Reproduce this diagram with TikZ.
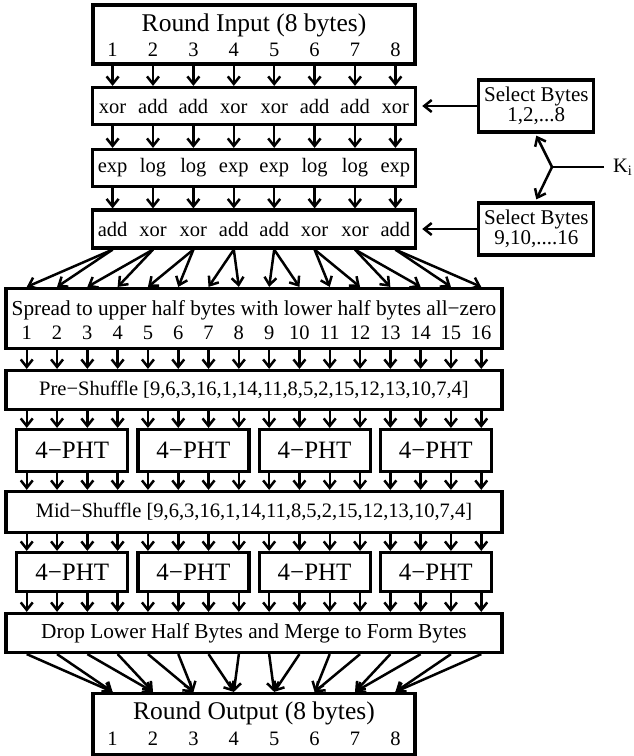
\documentclass[tikz,border=0pt]{standalone}
\usepackage{fontspec}
\setmainfont{Liberation Serif}
\usetikzlibrary{arrows.meta,positioning}

% one fixed-width cell per byte lane
\newcommand{\lanes}[2]{\foreach \w in {#2}{\makebox[#1][c]{\w}}}

\begin{document}
\begin{tikzpicture}[
  x=1pt,y=-1pt,
  >={Straight Barb[length=7.5pt,width=12pt]},
  box/.style={draw,line width=3.2pt,inner sep=0pt,align=center},
  fl/.style={->,line width=2.5pt},
  ttl/.style={inner sep=0pt,font=\fontsize{25.5}{25}\selectfont},
  num/.style={inner sep=0pt,font=\fontsize{20.5}{20}\selectfont},
  txt/.style={font=\fontsize{20.5}{20}\selectfont},
  big/.style={font=\fontsize{21.3}{21}\selectfont},
  sel/.style={box,font=\fontsize{21}{20.5}\selectfont,minimum width=115pt,minimum height=52pt},
  wide/.style={box,minimum width=496pt},
  narrow/.style={box,minimum width=322pt},
  pht/.style={box,font=\fontsize{25}{25}\selectfont,minimum width=111pt}
]
\useasboundingbox (0,0) rectangle (633,756);

% byte lanes
\foreach \i in {1,...,8} \coordinate (c\i) at ({254+40.4*(\i-4.5)},0);
\foreach \k in {1,...,16} \coordinate (s\k) at ({254+30.3*(\k-8.5)},0);

% 8-byte part
\node[narrow,minimum height=59pt] (rin) at (254,34.5) {};
\node[ttl,anchor=base] (rinT) at ([yshift=-28pt]rin.north) {Round Input (8 bytes)};
\node[num,anchor=base] (rinN) at ([yshift=-53pt]rin.north) {\lanes{40.4pt}{1,...,8}};
\node[narrow,txt,minimum height=37pt] (xor) at (254,106) {\lanes{40.4pt}{xor,add,add,xor,xor,add,add,xor}};
\node[narrow,txt,minimum height=37pt] (exp) at (254,168) {\lanes{40.4pt}{exp,log,log,exp,exp,log,log,exp}};
\node[narrow,txt,minimum height=38pt] (add) at (254,229) {\lanes{40.4pt}{add,xor,xor,add,add,xor,xor,add}};

% key bytes
\node[sel,right=60pt of xor] (sel1) {Select Bytes\\1,2,...8};
\node[sel,right=60pt of add] (sel2) {Select Bytes\\9,10,....16};
\coordinate (kj) at (552,167);
\node[txt,anchor=west,inner sep=0pt,outer sep=9pt] (ki) at (604,167) {K\textsubscript{i}};

% 16 half-byte part
\node[wide,minimum height=60pt] (spread) at (254,318.5) {};
\node[big,inner sep=0pt,anchor=base] (spreadT) at ([yshift=-29pt]spread.north) {Spread to upper half bytes with lower half bytes all−zero};
\node[num,anchor=base] (spreadN) at ([yshift=-53pt]spread.north) {\lanes{30.3pt}{1,...,16}};
\node[wide,txt,minimum height=39pt] (pre) at (254,390) {Pre−Shuffle [9,6,3,16,1,14,11,8,5,2,15,12,13,10,7,4]};
\foreach \j in {1,...,4} \node[pht,minimum height=42pt] (pa\j) at ({254+121.2*(\j-2.5)},450.5) {4−PHT};
\node[wide,txt,minimum height=41pt] (mid) at (254,512) {Mid−Shuffle [9,6,3,16,1,14,11,8,5,2,15,12,13,10,7,4]};
\foreach \j in {1,...,4} \node[pht,minimum height=39pt] (pb\j) at ({254+121.2*(\j-2.5)},572) {4−PHT};
\node[wide,big,minimum height=39pt] (drop) at (254,633) {Drop Lower Half Bytes and Merge to Form Bytes};

\node[narrow,minimum height=61pt] (rout) at (254,724) {};
\node[ttl,anchor=base] (routT) at ([yshift=-28pt]rout.north) {Round Output (8 bytes)};
\node[num,anchor=base] (routN) at ([yshift=-54pt]rout.north) {\lanes{40.4pt}{1,...,8}};

% connectors
\draw[fl,shorten >=5pt] (sel1.west) -- (sel1.west -| xor.east);
\draw[fl,shorten >=5pt] (sel2.west) -- (sel2.west -| add.east);
\draw[line width=2.5pt] (ki.west) -- (kj);
\draw[fl] (kj) -- ([yshift=-2pt]sel1.south);
\draw[fl] (kj) -- ([yshift=2pt]sel2.north);

\foreach \i in {1,...,8}{
  \draw[fl] (c\i |- rin.south) -- (c\i |- xor.north);
  \draw[fl] (c\i |- xor.south) -- (c\i |- exp.north);
  \draw[fl] (c\i |- exp.south) -- (c\i |- add.north);
}
\foreach \i [evaluate=\i as \a using int(2*\i-1), evaluate=\i as \b using int(2*\i)] in {1,...,8}{
  \draw[fl] (c\i |- add.south) -- (s\a |- spread.north);
  \draw[fl] (c\i |- add.south) -- (s\b |- spread.north);
  \draw[fl] (s\a |- drop.south) -- (c\i |- rout.north);
  \draw[fl] (s\b |- drop.south) -- (c\i |- rout.north);
}
\foreach \k in {1,...,16}{
  \draw[fl] (s\k |- spread.south) -- (s\k |- pre.north);
  \draw[fl] (s\k |- pre.south) -- (s\k |- pa1.north);
  \draw[fl] (s\k |- pa1.south) -- (s\k |- mid.north);
  \draw[fl] (s\k |- mid.south) -- (s\k |- pb1.north);
  \draw[fl] (s\k |- pb1.south) -- (s\k |- drop.north);
}
\end{tikzpicture}
\end{document}
